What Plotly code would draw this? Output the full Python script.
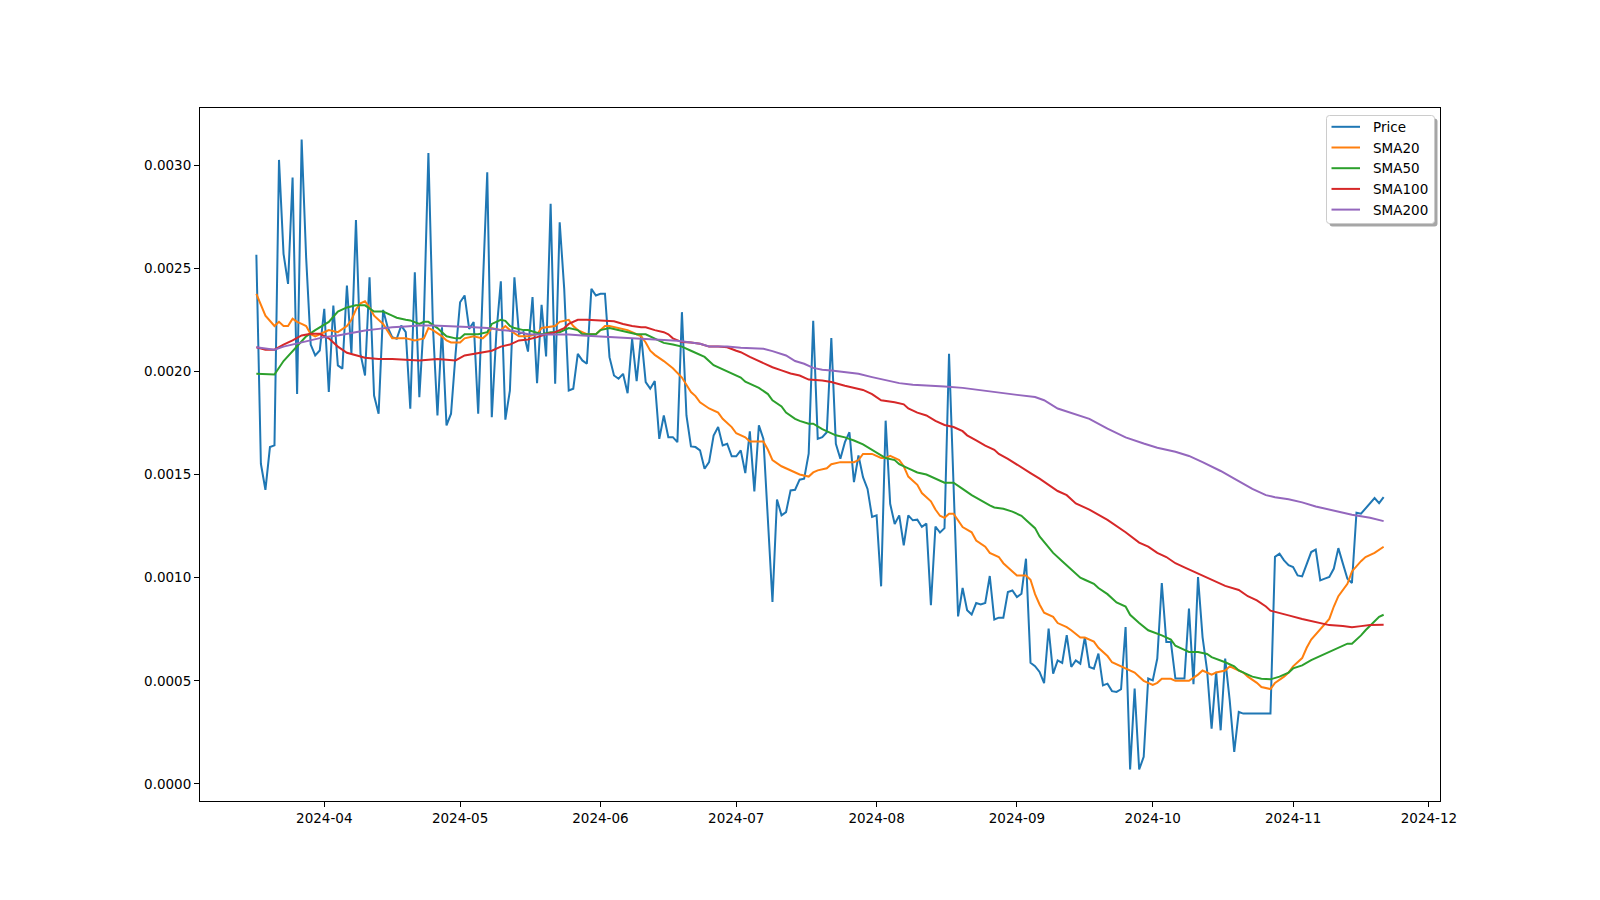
import pandas as pd
import plotly.graph_objects as go

start = pd.Timestamp("2024-03-17")

price = [
    0.002565, 0.001552, 0.001426, 0.001633, 0.001641, 0.003025, 0.002570, 0.002424, 0.002940, 0.001890,
    0.003124, 0.002550, 0.002130, 0.002077, 0.002101, 0.002303, 0.001900, 0.002319, 0.002029, 0.002013,
    0.002416, 0.002085, 0.002734, 0.002085, 0.001980, 0.002456, 0.001883, 0.001795, 0.002298, 0.002214,
    0.002166, 0.002158, 0.002222, 0.002190, 0.001819, 0.002480, 0.001875, 0.002250, 0.003059, 0.002220,
    0.001786, 0.002214, 0.001738, 0.001795, 0.002085, 0.002335, 0.002368, 0.002206, 0.002239, 0.001795,
    0.002400, 0.002965, 0.001778, 0.002182, 0.002437, 0.001766, 0.001907, 0.002456, 0.002182, 0.002190,
    0.002096, 0.002360, 0.001943, 0.002323, 0.002072, 0.002812, 0.001940, 0.002723, 0.002400, 0.001907,
    0.001916, 0.002085, 0.002053, 0.002037, 0.002400, 0.002368, 0.002376, 0.002376, 0.002069, 0.001980,
    0.001964, 0.001988, 0.001894, 0.002158, 0.001953, 0.002174, 0.001948, 0.001916, 0.001953, 0.001673,
    0.001786, 0.001681, 0.001681, 0.001657, 0.002287, 0.001786, 0.001636, 0.001633, 0.001617, 0.001528,
    0.001560, 0.001689, 0.001730, 0.001641, 0.001649, 0.001588, 0.001588, 0.001617, 0.001507, 0.001709,
    0.001418, 0.001738, 0.001673, 0.001280, 0.000882, 0.001379, 0.001302, 0.001318, 0.001423, 0.001426,
    0.001475, 0.001480, 0.001601, 0.002245, 0.001673, 0.001681, 0.001705, 0.002161, 0.001649, 0.001576,
    0.001657, 0.001705, 0.001463, 0.001592, 0.001487, 0.001430, 0.001294, 0.001302, 0.000958, 0.001761,
    0.001358, 0.001260, 0.001302, 0.001157, 0.001302, 0.001278, 0.001281, 0.001246, 0.001262, 0.000866,
    0.001248, 0.001219, 0.001240, 0.002085, 0.001440, 0.000812, 0.000950, 0.000842, 0.000821, 0.000877,
    0.000870, 0.000877, 0.001008, 0.000797, 0.000806, 0.000806, 0.000930, 0.000938, 0.000906, 0.000922,
    0.001092, 0.000587, 0.000571, 0.000543, 0.000489, 0.000753, 0.000535, 0.000599, 0.000587, 0.000721,
    0.000567, 0.000599, 0.000583, 0.000712, 0.000567, 0.000559, 0.000632, 0.000478, 0.000486, 0.000450,
    0.000446, 0.000459, 0.000761, 0.000070, 0.000462, 0.000070, 0.000131, 0.000511, 0.000502, 0.000608,
    0.000974, 0.000688, 0.000688, 0.000511, 0.000511, 0.000511, 0.000850, 0.000483, 0.001003, 0.000712,
    0.000551, 0.000268, 0.000543, 0.000260, 0.000608, 0.000405, 0.000155, 0.000349, 0.000341, 0.000341,
    0.000341, 0.000341, 0.000341, 0.000341, 0.000341, 0.001101, 0.001116, 0.001084, 0.001060, 0.001051,
    0.001011, 0.001006, 0.001068, 0.001124, 0.001136, 0.000987, 0.000995, 0.001003, 0.001044, 0.001143,
    0.001068, 0.000995, 0.000974, 0.001315, 0.001310, 0.001334, 0.001358, 0.001386, 0.001361, 0.001390,
]

sma20_days = [0, 1, 2, 4, 5, 6, 7, 8, 9, 10, 11, 12, 13, 14, 16, 18, 20, 21, 22, 23, 24, 25, 26, 28, 30,
              31, 33, 35, 37, 38, 39, 41, 42, 43, 45, 46, 48, 50, 51, 52, 54, 55, 56, 58, 60, 62, 63, 66,
              67, 69, 70, 71, 73, 75, 76, 77, 78, 80, 82, 84, 85, 86, 87, 88, 90, 92, 94, 96, 97, 98, 100,
              102, 103, 105, 106, 108, 109, 111, 112, 113, 114, 116, 117, 119, 120, 122, 123, 124, 126,
              127, 129, 130, 132, 133, 134, 136, 138, 139, 140, 142, 143, 144, 146, 147, 149, 150, 151,
              152, 153, 154, 155, 156, 158, 159, 161, 162, 164, 165, 167, 168, 170, 171, 172, 173, 174,
              176, 177, 179, 180, 182, 183, 185, 186, 188, 189, 191, 193, 194, 195, 196, 198, 199, 200,
              202, 203, 205, 206, 208, 209, 211, 212, 214, 215, 217, 218, 219, 221, 222, 224, 225, 227,
              228, 229, 231, 232, 233, 235, 237, 238, 239, 241, 242, 244, 245, 247, 249]
sma20_vals = [0.002376, 0.00232, 0.00227, 0.00222, 0.00224, 0.00222, 0.00222, 0.002255, 0.00224, 0.00223,
              0.00222, 0.00218, 0.00217, 0.00218, 0.0022, 0.00219, 0.00222, 0.00225, 0.0023, 0.00233,
              0.00234, 0.00231, 0.00227, 0.00223, 0.00216, 0.00216, 0.00216, 0.00215, 0.00216, 0.00221,
              0.0022, 0.00217, 0.00215, 0.00214, 0.00214, 0.00216, 0.00217, 0.00216, 0.00218, 0.00221,
              0.0022, 0.00222, 0.0022, 0.00217, 0.00217, 0.00218, 0.00221, 0.00222, 0.00224, 0.00225,
              0.00222, 0.0022, 0.00218, 0.00218, 0.0022, 0.00222, 0.00222, 0.00221, 0.0022, 0.00218,
              0.00217, 0.00214, 0.0021, 0.00208, 0.00205, 0.002015, 0.00197, 0.0019, 0.00188, 0.00185,
              0.00182, 0.0018, 0.00177, 0.00173, 0.0017, 0.00168, 0.00166, 0.00166, 0.00166, 0.00162,
              0.00157, 0.00154, 0.00153, 0.00151, 0.0015, 0.00149, 0.00151, 0.00152, 0.00153, 0.00155,
              0.00156, 0.00156, 0.00156, 0.00157, 0.0016, 0.0016, 0.00158, 0.00158, 0.00159, 0.00157,
              0.00154, 0.00149, 0.00145, 0.00141, 0.00137, 0.00133, 0.0013, 0.00129, 0.00131, 0.00131,
              0.00128, 0.001245, 0.00122, 0.00118, 0.00115, 0.00112, 0.0011, 0.00107, 0.00103, 0.00101,
              0.00101, 0.00099, 0.00092, 0.00087, 0.00083, 0.00081, 0.00078, 0.00076, 0.000745, 0.00071,
              0.00071, 0.00069, 0.00066, 0.00062, 0.00059, 0.00057, 0.00055, 0.00054, 0.00052, 0.0005,
              0.00048, 0.00049, 0.00051, 0.00051, 0.0005, 0.0005, 0.0005, 0.00053, 0.00055, 0.00053,
              0.00054, 0.00055, 0.00057, 0.00055, 0.00054, 0.00052, 0.00049, 0.00047, 0.00046, 0.00049,
              0.00052, 0.00054, 0.00057, 0.00061, 0.00066, 0.0007, 0.00075, 0.0008, 0.00086, 0.00091,
              0.00097, 0.00103, 0.00108, 0.0011, 0.00112, 0.00115]

sma50_days = [0, 2, 4, 6, 8, 11, 13, 16, 18, 20, 22, 24, 26, 28, 30, 31, 33, 34, 36, 37, 38, 40, 41, 42,
              44, 45, 46, 48, 49, 51, 52, 54, 55, 56, 57, 59, 60, 63, 65, 67, 69, 71, 72, 75, 76, 78, 80,
              82, 84, 86, 88, 90, 92, 94, 96, 97, 99, 101, 102, 104, 106, 107, 108, 110, 111, 113, 114,
              116, 117, 119, 120, 122, 123, 125, 127, 128, 130, 132, 134, 136, 138, 139, 141, 142, 144,
              146, 148, 150, 152, 154, 155, 156, 158, 160, 162, 163, 165, 167, 169, 170, 172, 173, 175,
              176, 178, 180, 182, 183, 185, 186, 188, 190, 192, 193, 195, 197, 199, 200, 202, 203, 205,
              206, 208, 210, 211, 213, 214, 216, 217, 219, 220, 222, 224, 226, 228, 229, 231, 233, 235,
              237, 239, 241, 242, 244, 245, 247, 248, 249]
sma50_vals = [0.001988, 0.001988, 0.001985, 0.00205, 0.0021, 0.00217, 0.0022, 0.00224, 0.00229, 0.00231,
              0.00232, 0.00232, 0.00229, 0.00229, 0.00227, 0.00226, 0.00225, 0.002247, 0.00223, 0.00224,
              0.00224, 0.00221, 0.00219, 0.00217, 0.00216, 0.00216, 0.00218, 0.00218, 0.00218, 0.00219,
              0.00223, 0.00225, 0.002245, 0.00222, 0.00221, 0.0022, 0.0022, 0.00218, 0.00219, 0.00219,
              0.00221, 0.0022, 0.00218, 0.00218, 0.0022, 0.00221, 0.0022, 0.00219, 0.00218, 0.00218,
              0.00216, 0.002138, 0.00213, 0.00212, 0.0021, 0.00209, 0.00207, 0.00203, 0.00202, 0.002,
              0.00198, 0.00197, 0.00195, 0.00193, 0.00192, 0.00189, 0.00186, 0.00183, 0.0018, 0.00177,
              0.00176, 0.001746, 0.001746, 0.00172, 0.0017, 0.00169, 0.00168, 0.001665, 0.001646, 0.00162,
              0.00159, 0.00158, 0.00157, 0.00155, 0.00153, 0.00151, 0.0015, 0.00148, 0.00146, 0.00146,
              0.001447, 0.00143, 0.0014, 0.001374, 0.00135, 0.00134, 0.001334, 0.00132, 0.0013, 0.00128,
              0.00124, 0.0012, 0.00115, 0.00112, 0.00108, 0.00104, 0.001, 0.00099, 0.00097, 0.00095,
              0.00092, 0.00088, 0.00086, 0.00082, 0.00078, 0.000745, 0.00073, 0.00072, 0.0007, 0.00067,
              0.00065, 0.00064, 0.00064, 0.00063, 0.000615, 0.0006, 0.00059, 0.00057, 0.00055, 0.00053,
              0.00052, 0.00051, 0.000507, 0.00052, 0.00054, 0.00056, 0.000575, 0.0006, 0.00062, 0.00064,
              0.00066, 0.00068, 0.00068, 0.00072, 0.000745, 0.00079, 0.00081, 0.00082]

sma100_days = [0, 2, 4, 6, 8, 10, 12, 14, 16, 18, 20, 22, 24, 27, 30, 33, 36, 38, 40, 42, 44, 46, 48, 50,
               52, 54, 56, 58, 60, 62, 64, 66, 68, 69, 71, 73, 75, 77, 79, 81, 83, 85, 86, 88, 90, 91, 92,
               94, 96, 98, 100, 102, 104, 106, 107, 109, 110, 112, 114, 116, 118, 120, 122, 125, 127, 130,
               132, 134, 136, 138, 141, 143, 144, 146, 148, 150, 152, 154, 156, 157, 159, 161, 163, 164,
               166, 168, 170, 171, 173, 175, 177, 179, 181, 184, 188, 192, 195, 197, 199, 201, 203, 205,
               207, 210, 213, 214, 217, 219, 221, 223, 224, 226, 228, 231, 233, 235, 237, 240, 242, 244,
               246, 249]
sma100_vals = [0.002117, 0.002105, 0.002105, 0.00213, 0.00215, 0.002174, 0.002182, 0.002182, 0.00216,
               0.00212, 0.00209, 0.002077, 0.002066, 0.00206, 0.00206, 0.002056, 0.002053, 0.002056,
               0.00206, 0.002056, 0.002053, 0.002077, 0.002085, 0.00209, 0.0021, 0.00212, 0.00213,
               0.00215, 0.002155, 0.002166, 0.00218, 0.00219, 0.00221, 0.00223, 0.00225, 0.00225,
               0.002247, 0.002247, 0.002243, 0.00223, 0.00222, 0.002214, 0.002214, 0.0022, 0.00219,
               0.00218, 0.00216, 0.002142, 0.00214, 0.002134, 0.00212, 0.00212, 0.002117, 0.0021,
               0.002093, 0.00207, 0.00206, 0.00204, 0.00202, 0.002005, 0.00199, 0.00198, 0.00196,
               0.001956, 0.001948, 0.00193, 0.00192, 0.00191, 0.00189, 0.00186, 0.00185, 0.00184,
               0.00182, 0.0018, 0.001786, 0.00176, 0.00174, 0.00173, 0.00171, 0.00169, 0.001665,
               0.00164, 0.00162, 0.0016, 0.001576, 0.00155, 0.00152, 0.001507, 0.00148, 0.00145,
               0.00142, 0.0014, 0.00136, 0.00133, 0.00128, 0.00122, 0.00117, 0.00115, 0.00112, 0.0011,
               0.00107, 0.00105, 0.00103, 0.001, 0.00097, 0.00096, 0.00094, 0.00091, 0.00089, 0.00086,
               0.00084, 0.00083, 0.000817, 0.0008, 0.00079, 0.00078, 0.00077, 0.000766, 0.00076,
               0.000765, 0.00077, 0.000772]

sma200_days = [0, 2, 4, 6, 8, 11, 13, 15, 18, 21, 24, 27, 30, 33, 36, 39, 42, 45, 48, 51, 54, 57, 60, 63,
               66, 69, 72, 75, 78, 81, 84, 87, 90, 93, 96, 98, 100, 104, 107, 110, 112, 114, 117, 119,
               121, 123, 125, 127, 130, 133, 136, 139, 142, 145, 148, 152, 156, 160, 164, 168, 172, 174,
               177, 180, 184, 188, 192, 196, 199, 203, 206, 209, 213, 216, 220, 223, 225, 228, 231, 234,
               238, 242, 246, 249]
sma200_vals = [0.002117, 0.00211, 0.002105, 0.00212, 0.00213, 0.002147, 0.002158, 0.002166, 0.002174,
               0.002187, 0.002198, 0.002206, 0.002214, 0.002218, 0.002222, 0.002222, 0.00222, 0.002218,
               0.002214, 0.00221, 0.0022, 0.002195, 0.00218, 0.002179, 0.002179, 0.002179, 0.002174,
               0.002169, 0.002166, 0.002163, 0.002159, 0.002156, 0.002153, 0.002148, 0.00214, 0.002134,
               0.002121, 0.00212, 0.002114, 0.00211, 0.00211, 0.002098, 0.002077, 0.00205, 0.002037,
               0.002017, 0.002008, 0.002004, 0.001996, 0.001988, 0.001972, 0.001956, 0.001943, 0.001935,
               0.001932, 0.001927, 0.00192, 0.001908, 0.001896, 0.001886, 0.001876, 0.00186, 0.00182,
               0.0018, 0.00177, 0.001722, 0.00168, 0.00165, 0.00163, 0.00161, 0.00159, 0.00156, 0.001517,
               0.00148, 0.00143, 0.0014, 0.00139, 0.00138, 0.001365, 0.001345, 0.001326, 0.001305,
               0.00129, 0.001274]

series_names = ["Price", "SMA20", "SMA50", "SMA100", "SMA200"]
colors = ["#1f77b4", "#ff7f0e", "#2ca02c", "#d62728", "#9467bd"]
x_ticks = ["2024-04-01", "2024-05-01", "2024-06-01", "2024-07-01", "2024-08-01",
           "2024-09-01", "2024-10-01", "2024-11-01", "2024-12-01"]
y_ticks = [0.0, 0.0005, 0.0010, 0.0015, 0.0020, 0.0025, 0.0030]


def to_dates(days):
    return [start + pd.Timedelta(days=int(d)) for d in days]


price_dates = to_dates(range(len(price)))
series = [
    (price_dates, price),
    (to_dates(sma20_days), sma20_vals),
    (to_dates(sma50_days), sma50_vals),
    (to_dates(sma100_days), sma100_vals),
    (to_dates(sma200_days), sma200_vals),
]

fig = go.Figure()
for (xs, ys), name, col in zip(series, series_names, colors):
    fig.add_trace(go.Scatter(x=xs, y=ys, mode="lines", name=name,
                             line=dict(color=col, width=2)))

# matplotlib-like 5% margins
span_days = (price_dates[-1] - price_dates[0]).days
pad = pd.Timedelta(days=span_days * 0.05)
xr = [price_dates[0] - pad, price_dates[-1] + pad]
allv = price + sma20_vals + sma50_vals + sma100_vals + sma200_vals
lo, hi = min(allv), max(allv)
ypad = (hi - lo) * 0.05
yr = [lo - ypad, hi + ypad]

FONT = "DejaVu Sans"
FS = 13.5
axis_common = dict(showline=True, linecolor="black", linewidth=1, mirror=True,
                   ticks="outside", ticklen=5, tickwidth=1, tickcolor="black",
                   showgrid=False, zeroline=False,
                   tickfont=dict(family=FONT, size=FS, color="black"))

# ---- manual matplotlib-style legend (pixel layout -> paper coords) ----
L, R, T, B = 200, 1440, 108, 801


def px(x):
    return (x - L) / (R - L)


def py(y):
    return (B - y) / (B - T)


def rounded_path(x0, y0, x1, y1, r):
    return (f"M {px(x0 + r)} {py(y0)} L {px(x1 - r)} {py(y0)} "
            f"Q {px(x1)} {py(y0)} {px(x1)} {py(y0 + r)} "
            f"L {px(x1)} {py(y1 - r)} Q {px(x1)} {py(y1)} {px(x1 - r)} {py(y1)} "
            f"L {px(x0 + r)} {py(y1)} Q {px(x0)} {py(y1)} {px(x0)} {py(y1 - r)} "
            f"L {px(x0)} {py(y0 + r)} Q {px(x0)} {py(y0)} {px(x0 + r)} {py(y0)} Z")


bx0, by0, bx1, by1 = 1326.5, 115.5, 1434.5, 223.5
shapes = [
    dict(type="path", xref="paper", yref="paper",
         path=rounded_path(bx0 + 3, by0 + 3, bx1 + 3, by1 + 3, 3),
         fillcolor="rgba(0,0,0,0.35)", line=dict(width=0), layer="above"),
    dict(type="path", xref="paper", yref="paper",
         path=rounded_path(bx0, by0, bx1, by1, 3),
         fillcolor="white", line=dict(color="#cccccc", width=1), layer="above"),
]
annotations = []
entry_y = [126.8, 147.5, 168.2, 188.9, 209.6]
for name, col, ey in zip(series_names, colors, entry_y):
    shapes.append(dict(type="line", xref="paper", yref="paper",
                       x0=px(1331.5), x1=px(1360), y0=py(ey), y1=py(ey),
                       line=dict(color=col, width=2), layer="above"))
    annotations.append(dict(xref="paper", yref="paper", x=px(1371), y=py(ey),
                            xanchor="left", yanchor="middle", text=name, showarrow=False,
                            font=dict(family=FONT, size=FS, color="black")))

fig.update_layout(
    width=1600, height=900,
    margin=dict(l=L, r=1600 - R, t=T, b=900 - B),
    paper_bgcolor="white", plot_bgcolor="white",
    font=dict(family=FONT, size=FS, color="black"),
    xaxis=dict(range=xr, tickvals=x_ticks, tickformat="%Y-%m", **axis_common),
    yaxis=dict(range=yr, tickvals=y_ticks, tickformat=".4f", **axis_common),
    showlegend=False,
    shapes=shapes,
    annotations=annotations,
)

fig.write_html("out.html")
